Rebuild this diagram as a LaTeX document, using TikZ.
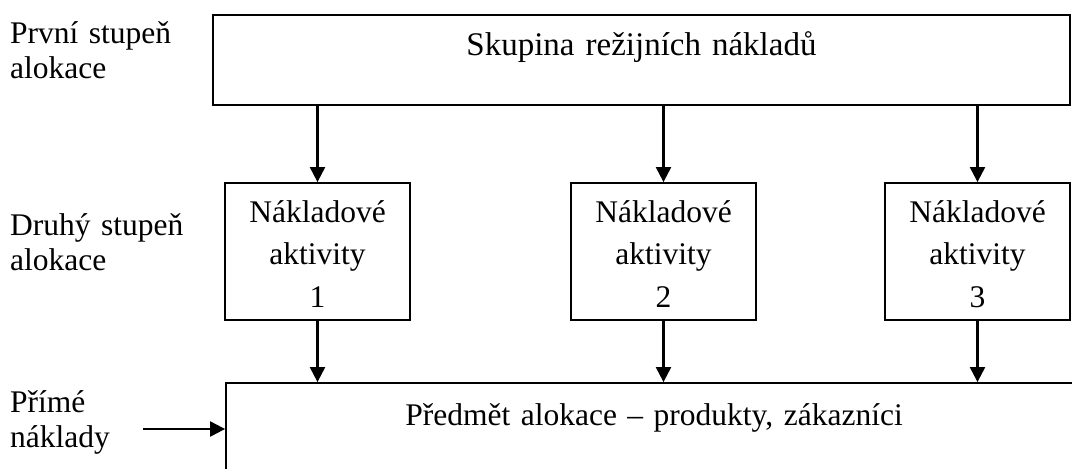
\documentclass[tikz,border=0pt]{standalone}
\usepackage{fontspec}
\setmainfont{Liberation Serif}
\usetikzlibrary{arrows.meta}
\tikzset{
    box/.style = {draw, line width = 1.8pt, inner sep = 0pt, align = center, font = \fontsize{31.5}{42.5}\selectfont},
    lab/.style = {anchor = base west, inner sep = 0pt, align = left, text width = 200pt, font = \fontsize{31.5}{35.5}\selectfont},
    arr/.style = {-{Triangle[length = 15pt, width = 15pt]}, line width = 2.2pt}
}
\begin{document}
\begin{tikzpicture}[x = 1pt, y = -1pt]
                \useasboundingbox (0, 0) rectangle (1072, 469);
                \clip (0, 0) rectangle (1072, 469);
                \node[lab] (lab1) at (10, 43) {První stupeň\\alokace};
                \node[lab] (lab2) at (10, 235) {Druhý stupeň\\alokace};
                \node[lab] (lab3) at (10, 412) {Přímé\\náklady};
                \node[box, text width = 857pt, text height = 40pt, text depth = 50pt, font = \fontsize{33}{42.5}\selectfont] (pool) at (641.5, 60) {Skupina režijních nákladů};
                \node[box, text width = 185pt, text height = 39pt, text depth = 98pt] (act1) at (317.5, 251.5) {Nákladové\\aktivity\\1};
                \node[box, text width = 185pt, text height = 39pt, text depth = 98pt] (act2) at (663.5, 251.5) {Nákladové\\aktivity\\2};
                \node[box, text width = 185pt, text height = 39pt, text depth = 98pt] (act3) at (977.5, 251.5) {Nákladové\\aktivity\\3};
                \node[box, text width = 856pt, text height = 42pt, text depth = 55pt] (obj) at (654, 431.5) {Předmět alokace – produkty, zákazníci};
                \coordinate (direct) at (143, 429);
                \draw[arr] (pool.south -| act1.north) -- (act1.north);
                \draw[arr] (pool.south -| act2.north) -- (act2.north);
                \draw[arr] (pool.south -| act3.north) -- (act3.north);
                \draw[arr] (act1.south) -- (act1.south |- obj.north);
                \draw[arr] (act2.south) -- (act2.south |- obj.north);
                \draw[arr] (act3.south) -- (act3.south |- obj.north);
                \draw[arr] (direct) -- (direct -| obj.west);
            \end{tikzpicture}
\end{document}
